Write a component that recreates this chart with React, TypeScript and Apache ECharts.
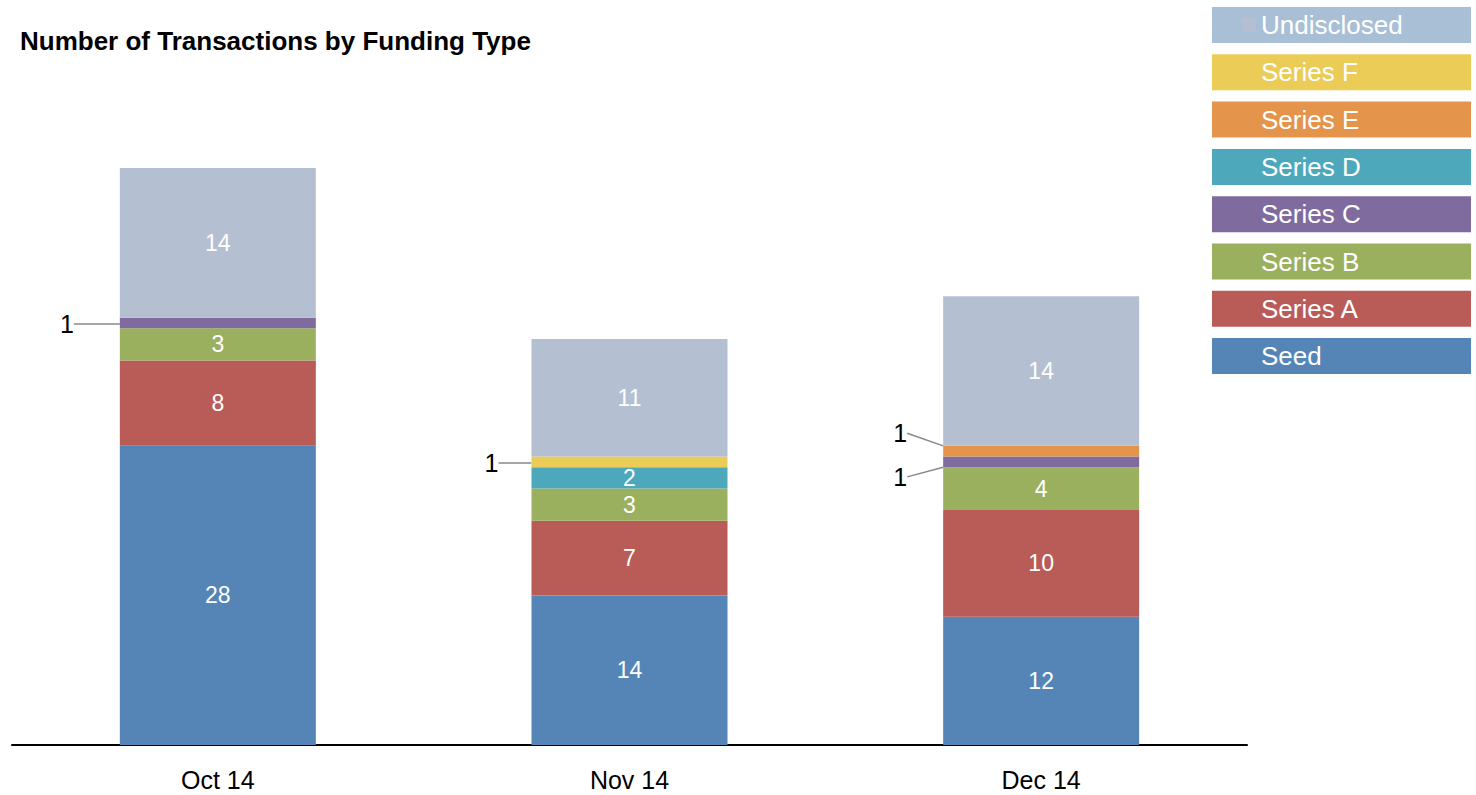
import React, { useEffect, useRef } from "react";
import * as echarts from "echarts";

const categories = ["Oct 14", "Nov 14", "Dec 14"];
const seriesNames = ["Seed", "Series A", "Series B", "Series C", "Series D", "Series E", "Series F", "Undisclosed"];
const seed = [28, 14, 12];
const seriesA = [8, 7, 10];
const seriesB = [3, 3, 4];
const seriesC = [1, 0, 1];
const seriesD = [0, 2, 0];
const seriesE = [0, 0, 1];
const seriesF = [0, 1, 0];
const undisclosed = [14, 11, 14];
const values = [seed, seriesA, seriesB, seriesC, seriesD, seriesE, seriesF, undisclosed];
const colors = ["#5585b6", "#b95b57", "#9bb05e", "#7f6b9d", "#4ea8bc", "#e4944b", "#ebcc57", "#b4bfd2"];
const legendBg = ["#5585b6", "#b95b57", "#9bb05e", "#7f6b9d", "#4ea8bc", "#e4944b", "#ebcc57", "#a8bfd5"];

// vertical offsets of outside labels for value-1 segments: [seriesIndex][dataIndex]
const outsideDy: Record<string, number> = { "3-0": 1, "6-1": 1, "3-2": 15, "5-2": -18 };
const outsideGap: Record<string, number> = { "3-0": 46, "6-1": 33, "3-2": 36, "5-2": 36 };

const FONT = "Liberation Sans, Arial, sans-serif";

export default function App() {
  const ref = useRef<HTMLDivElement>(null);
  useEffect(() => {
    if (!ref.current) return;
    const chart = echarts.init(ref.current, null, { renderer: "svg" });
    const legendOrder = [...seriesNames].reverse();
    const series = seriesNames.map((name, si) => ({
      name,
      type: "bar",
      stack: "total",
      barWidth: 196,
      itemStyle: { color: colors[si] },
      data: values[si].map((v, di) => {
        const key = `${si}-${di}`;
        if (v === 1 && outsideDy[key] !== undefined) {
          return {
            value: v,
            label: { show: true, color: "#000", fontSize: 25, position: "inside" },
            labelLine: { show: true, lineStyle: { color: "#888", width: 1.5 } },
          };
        }
        return v;
      }),
      label: {
        show: true,
        position: "inside",
        color: "#fff",
        fontSize: 23,
        fontFamily: FONT,
        formatter: (p: any) => (p.value ? String(p.value) : ""),
      },
      labelLine: { show: false },
      labelLayout: (params: any) => {
        const key = `${si}-${params.dataIndex}`;
        if (outsideDy[key] === undefined) return {};
        const r = params.rect;
        return {
          x: r.x - outsideGap[key],
          y: r.y + r.height / 2 + outsideDy[key],
          align: "right",
          verticalAlign: "middle",
        };
      },
    }));
    chart.setOption({
      animation: false,
      textStyle: { fontFamily: FONT },
      title: {
        text: "Number of Transactions by Funding Type",
        left: 15,
        top: 23,
        textStyle: { fontSize: 26, fontWeight: "bold", color: "#000", fontFamily: FONT },
      },
      grid: { left: 12, right: 229, top: 104, bottom: 50, containLabel: false },
      xAxis: {
        type: "category",
        data: categories,
        axisLine: { lineStyle: { color: "#000", width: 2 } },
        axisTick: { show: false },
        axisLabel: { fontSize: 25, color: "#000", margin: 22 },
      },
      yAxis: { type: "value", min: 0, max: 60, show: false, splitLine: { show: false } },
      legend: {
        orient: "vertical",
        left: 1237,
        top: 2,
        itemWidth: 14,
        itemHeight: 14,
        itemGap: 11.3,
        icon: "rect",
        data: legendOrder,
        textStyle: { color: "#fff", fontSize: 26, lineHeight: 36, padding: [0, 0, 0, 0] },
        selectedMode: false,
      },
      graphic: legendOrder.map((name, i) => ({
        type: "rect",
        left: 1212,
        top: 7 + i * 47.3,
        z: -10,
        shape: { width: 259, height: 36 },
        style: { fill: legendBg[seriesNames.indexOf(name)] },
      })),
      series,
    });
    return () => chart.dispose();
  }, []);
  return <div ref={ref} style={{ position: "absolute", left: 0, top: 0, width: 1476, height: 795 }} />;
}
